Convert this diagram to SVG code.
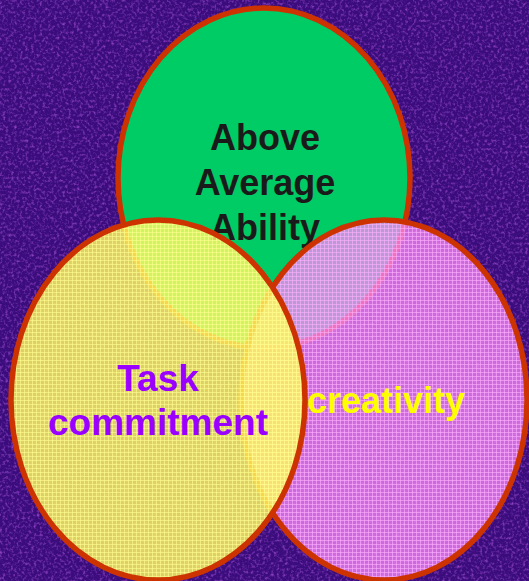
<svg xmlns="http://www.w3.org/2000/svg" width="529" height="581" viewBox="0 0 529 581">
<defs>
<style>
.ring{stroke:#CC3300;stroke-width:5.5}
.t{font-family:"Liberation Sans",Arial,sans-serif;font-weight:bold;font-size:36px;text-anchor:middle}
.t2{font-size:37px}
</style>
<filter id="noise" x="0" y="0" width="100%" height="100%">
<feTurbulence type="fractalNoise" baseFrequency="0.35" numOctaves="2" seed="3"/>
<feColorMatrix type="matrix" values="0 0 0 0 0.45  0 0 0 0 0.1  0 0 0 0 0.75  0 0 0 1.6 -0.75"/>
</filter>
<pattern id="py" width="4" height="4" patternUnits="userSpaceOnUse">
<rect width="4" height="4" fill="#FFFA60" fill-opacity="0.82"/>
<rect width="4" height="1" fill="#FFFF90" fill-opacity="0.6"/>
<rect width="1" height="4" fill="#FFFF90" fill-opacity="0.6"/>
</pattern>
<pattern id="pp" width="4" height="4" patternUnits="userSpaceOnUse">
<rect width="4" height="4" fill="#F888F8" fill-opacity="0.76"/>
<rect width="4" height="1" fill="#FFB0FF" fill-opacity="0.6"/>
<rect width="1" height="4" fill="#FFB0FF" fill-opacity="0.6"/>
</pattern>
</defs>
<rect width="529" height="581" fill="#3A0C7C"/>
<rect width="529" height="581" filter="url(#noise)"/>
<g id="ability">
<ellipse cx="264" cy="178" rx="146" ry="170" fill="#00CC66" class="ring"/>
<text class="t" x="265" y="150" fill="#1A1A1A">Above</text>
<text class="t" x="265" y="195" fill="#1A1A1A">Average</text>
<text class="t" x="265" y="240" fill="#1A1A1A">Ability</text>
</g>
<g id="creativity">
<ellipse cx="384" cy="400" rx="143" ry="180" fill="url(#pp)" class="ring"/>
<text class="t" x="386" y="413" fill="#FFFF00">creativity</text>
</g>
<g id="task">
<ellipse cx="158" cy="400" rx="147" ry="180" fill="url(#py)" class="ring"/>
<text class="t t2" x="158" y="391" fill="#9900FF">Task</text>
<text class="t t2" x="158" y="435" fill="#9900FF">commitment</text>
</g>
<g id="connectors"/>
</svg>
